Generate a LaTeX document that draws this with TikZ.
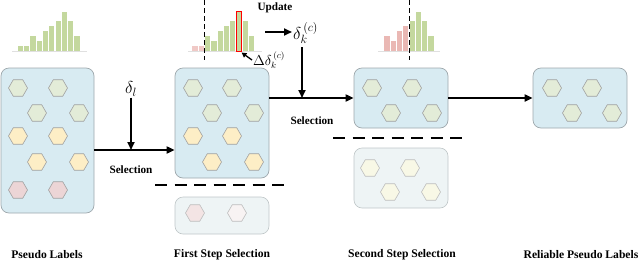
\documentclass[tikz,border=0pt]{standalone}
\usepackage{fontspec}
\setmainfont{Liberation Serif}
\usetikzlibrary{shapes.geometric,arrows.meta}
\definecolor{boxfill}{HTML}{D8EBF2}
\definecolor{boxline}{HTML}{9EA8AC}
\definecolor{fadefill}{HTML}{EEF4F5}
\definecolor{fadeline}{HTML}{BFC6C8}
\definecolor{hexgreen}{HTML}{E3ECD8}
\definecolor{hexyellow}{HTML}{FDEEC6}
\definecolor{hexpink}{HTML}{ECD5D6}
\definecolor{hexfpink}{HTML}{F3E4E4}
\definecolor{hexfwhite}{HTML}{F8F3F3}
\definecolor{hexfyel}{HTML}{F8F8E6}
\definecolor{hexline}{HTML}{A0A0A0}
\definecolor{bargreen}{HTML}{C4D89E}
\definecolor{barpink}{HTML}{EAB8B4}
\definecolor{barpinkl}{HTML}{F0C9C6}
\begin{document}
\begin{tikzpicture}[x=1pt,y=-1pt,
  mainbox/.style={draw=boxline, fill=boxfill, rounded corners=8pt, line width=0.7pt, inner sep=0pt, minimum width=94pt},
  fadebox/.style={draw=fadeline, fill=fadefill, rounded corners=8pt, line width=0.6pt, inner sep=0pt, minimum width=94pt},
  hexa/.style={regular polygon, regular polygon sides=6, minimum size=19pt, inner sep=0pt, draw=hexline, line width=0.6pt},
  hg/.style={hexa, fill=hexgreen},
  hy/.style={hexa, fill=hexyellow},
  hp/.style={hexa, fill=hexpink},
  hfp/.style={hexa, fill=hexfpink, draw=hexline!70},
  hfw/.style={hexa, fill=hexfwhite, draw=hexline!70},
  hfy/.style={hexa, fill=hexfyel, draw=hexline!70},
  arr/.style={line width=1.8pt, -{Triangle[length=8pt,width=7pt]}},
  thinarr/.style={line width=1.3pt, -{Triangle[length=5pt,width=5pt]}},
  sepline/.style={line width=1.8pt, dash pattern=on 12pt off 7.5pt},
  vdash/.style={line width=0.8pt, dash pattern=on 5pt off 3pt},
  lbl/.style={font=\bfseries\fontsize{11.6}{13}\selectfont, inner sep=0pt},
  slbl/.style={font=\bfseries\fontsize{11.2}{12}\selectfont, inner sep=0pt}
]
\useasboundingbox (0,0) rectangle (640,263);

% ---------- histograms ----------
\draw[black!12, line width=0.6pt] (12,51.5) -- (87,51.5);
\foreach \h [count=\i from 0] in {5,5,15,10,20,25,30,39,30,15}
  \fill[bargreen] (17.7+\i*6.3,51) rectangle ++(5.2,-\h);

\draw[black!12, line width=0.6pt] (188,51.5) -- (262,51.5);
\foreach \h [count=\i from 0] in {5,5}
  \fill[barpinkl] (192.4+\i*6.3,51) rectangle ++(5.2,-\h);
\foreach \h [count=\i from 2] in {15,10,20,25,30,39,30,15}
  \fill[bargreen] (192.4+\i*6.3,51) rectangle ++(5.2,-\h);
\coordinate (redtip) at (241.5,52.5);
\draw[red, line width=0.9pt] (236.6,51) rectangle (241.6,11.5);
\draw[vdash] (204,0) -- (204,60);

\draw[black!12, line width=0.6pt] (378,51.5) -- (440,51.5);
\foreach \h [count=\i from 0] in {15,10,20,25}
  \fill[barpink] (384.3+\i*6.3,51) rectangle ++(5.2,-\h);
\foreach \h [count=\i from 4] in {30,39,30,15}
  \fill[bargreen] (384.3+\i*6.3,51) rectangle ++(5.2,-\h);
\draw[vdash] (409,0) -- (409,60);

% ---------- boxes ----------
\node[mainbox, minimum width=93pt, minimum height=145pt] (b1) at (47.5,140.5) {};
\node[mainbox, minimum height=110pt] (b2) at (222,123) {};
\node[fadebox, minimum height=37pt] (b3) at (222,215.5) {};
\node[mainbox, minimum height=60pt] (b4) at (401,98) {};
\node[fadebox, minimum height=60pt] (b5) at (401,178) {};
\node[mainbox, minimum height=60pt] (b6) at (580,98) {};

% ---------- hexagons ----------
\node[hg] (h11) at (18,88) {};  \node[hg] (h12) at (58,88) {};
\node[hg] (h13) at (37,113) {}; \node[hg] (h14) at (79,113) {};
\node[hy] (h15) at (18,136) {}; \node[hy] (h16) at (58,136) {};
\node[hy] (h17) at (37,162) {}; \node[hy] (h18) at (79,162) {};
\node[hp] (h19) at (18,190) {}; \node[hp] (h1a) at (58,190) {};

\node[hg] (h21) at (193,88) {};  \node[hg] (h22) at (232,88) {};
\node[hg] (h23) at (212,113) {}; \node[hg] (h24) at (254,113) {};
\node[hy] (h25) at (193,136) {}; \node[hy] (h26) at (232,136) {};
\node[hy] (h27) at (212,162) {}; \node[hy] (h28) at (254,162) {};

\node[hfp] (h31) at (195,213) {}; \node[hfw] (h32) at (237,213) {};

\node[hg] (h41) at (372,88) {};  \node[hg] (h42) at (412,88) {};
\node[hg] (h43) at (391,113) {}; \node[hg] (h44) at (432,113) {};

\node[hfy] (h51) at (370,168) {}; \node[hfy] (h52) at (410,168) {};
\node[hfy] (h53) at (390,192) {}; \node[hfy] (h54) at (431,192) {};

\node[hg] (h61) at (552,88) {};  \node[hg] (h62) at (592,88) {};
\node[hg] (h63) at (572,113) {}; \node[hg] (h64) at (612,113) {};

% ---------- dashed separators ----------
\coordinate (s1a) at (155,185); \coordinate (s1b) at (290,185);
\coordinate (s2a) at (333,138); \coordinate (s2b) at (469,138);
\draw[sepline] (s1a) -- (s1b);
\draw[sepline] (s2a) -- (s2b);

% ---------- first selection ----------
\coordinate (j1) at (131,150);
\node[inner sep=1pt, font=\fontsize{18}{18}\selectfont] (dl) at (131,89) {$\delta_l$};
\draw[line width=1.8pt] (b1.east |- j1) -- (j1);
\draw[arr] (j1) -- (b2.west |- j1);
\draw[arr] (dl.south -| j1) -- (j1);
\node[slbl] (sel1) at (131,170) {Selection};

% ---------- update / second selection ----------
\node[slbl] (upd) at (275,8) {Update};
\node[inner sep=1pt, anchor=west, font=\fontsize{18}{18}\selectfont] (dk) at (292,33) {$\delta_k^{\,(c)}$};
\coordinate (ua) at (265,32);
\draw[arr] (ua) -- (dk.west |- ua);
\node[inner sep=1pt, anchor=west, font=\fontsize{13.5}{13.5}\selectfont] (ddk) at (252,60) {$\Delta\delta_k^{\,(c)}$};
\draw[thinarr] (ddk.west) -- (redtip);

\coordinate (j2) at (302,98);
\draw[line width=1.8pt] (b2.east |- j2) -- (j2);
\draw[arr] (j2) -- (b4.west);
\draw[arr] (302,47) -- (j2);
\node[slbl] (sel2) at (312,121) {Selection};

\draw[arr] (b4.east) -- (b6.west);

% ---------- bottom labels ----------
\node[lbl] (l1) at (47,255) {Pseudo Labels};
\node[lbl] (l2) at (222,255) {First Step Selection};
\node[lbl] (l3) at (402,255) {Second Step Selection};
\node[lbl] (l4) at (581,255) {Reliable Pseudo Labels};
\end{tikzpicture}
\end{document}
